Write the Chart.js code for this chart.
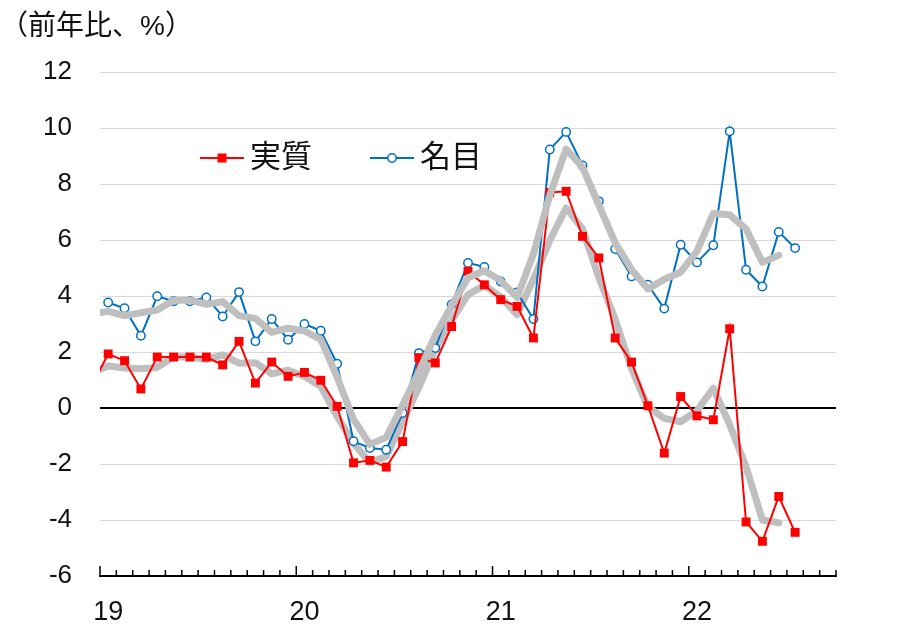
<!DOCTYPE html>
<html>
<head>
<meta charset="utf-8">
<script src="https://cdn.jsdelivr.net/npm/chart.js@4"></script>
<style>
  body { margin: 0; background: #fff; }
  #wrap { width: 917px; height: 629px; }
</style>
</head>
<body>
<div id="wrap"><canvas id="grafica" width="917" height="629"></canvas></div>
<script>
// meses: dic-2018 .. sep-2022 (dic-2018 queda fuera del eje, solo se ve el tramo recortado)
const years = ['2018', '2019', '2020', '2021', '2022'];
const months = [];
years.forEach((y) => {
  for (let m = 1; m <= 12; m++) {
    const lbl = y + '-' + String(m).padStart(2, '0');
    if (lbl >= '2018-12' && lbl <= '2022-09') months.push(lbl);
  }
});
const yearTickLabels = { '2019': '19', '2020': '20', '2021': '21', '2022': '22' };

const seriesNames = ['実質', '名目'];

// 実質 (rojo)
const real = [
  0.8,
  1.93, 1.69, 0.68, 1.82, 1.82, 1.82, 1.82, 1.54, 2.38, 0.89, 1.64, 1.13,
  1.27, 0.99, 0.06, -1.96, -1.87, -2.11, -1.20, 1.8, 1.61, 2.91, 4.88, 4.40,
  3.87, 3.63, 2.5, 7.7, 7.74, 6.13, 5.36, 2.5, 1.64, 0.08, -1.61, 0.41,
  -0.28, -0.42, 2.83, -4.07, -4.76, -3.16, -4.44
];
// 名目 (azul)
const nominal = [
  null,
  3.77, 3.56, 2.58, 3.99, 3.81, 3.81, 3.95, 3.27, 4.14, 2.38, 3.18, 2.44,
  3.0, 2.76, 1.58, -1.19, -1.43, -1.49, -0.18, 1.96, 2.14, 3.7, 5.18, 5.04,
  4.52, 4.13, 3.18, 9.23, 9.86, 8.66, 7.38, 5.68, 4.70, 4.40, 3.55, 5.83,
  5.20, 5.81, 9.88, 4.94, 4.34, 6.29, 5.71
];
// lineas grises (promedio movil)
const nominalAvg = [
  3.35,
  3.45, 3.3, 3.4, 3.5, 3.85, 3.85, 3.7, 3.8, 3.3, 3.2, 2.7, 2.85,
  2.75, 2.45, 1.1, -0.4, -1.3, -1.05, 0.1, 1.3, 2.6, 3.65, 4.65, 4.9,
  4.55, 3.95, 5.5, 7.6, 9.25, 8.6, 7.25, 5.9, 4.95, 4.25, 4.6, 4.85,
  5.6, 6.95, 6.9, 6.4, 5.2, 5.45
];
const realAvg = [
  1.25,
  1.5, 1.43, 1.4, 1.45, 1.82, 1.82, 1.73, 1.9, 1.6, 1.62, 1.22, 1.35,
  1.13, 0.77, -0.3, -1.26, -1.95, -1.73, -0.5, 0.74, 2.1, 3.13, 4.05, 4.38,
  3.97, 3.33, 4.6, 5.98, 7.15, 6.4, 4.66, 3.17, 1.41, 0.04, -0.37, -0.49,
  -0.1, 0.71, -0.6, -2.1, -4.0, -4.1
];

const FONT = "'Liberation Sans', Arial, 'Noto Sans CJK JP', sans-serif";
const RED = '#FF0000';
const BLUE = '#0070C0';
const GRAY = '#BFBFBF';

// marcas del eje x hacia adentro (largas en enero)
const tickMarks = {
  id: 'tickMarks',
  afterDatasetsDraw(chart) {
    const x = chart.scales.x;
    const ctx = chart.ctx;
    const bottom = chart.chartArea.bottom;
    const half = (x.getPixelForValue(x.min + 1) - x.getPixelForValue(x.min)) / 2;
    ctx.save();
    ctx.strokeStyle = '#000';
    ctx.lineWidth = 1.5;
    for (let i = x.min; i <= x.max + 1; i++) {
      const px = x.getPixelForValue(i) - half;
      const lbl = months[i] || '';
      const len = lbl.endsWith('-01') ? 10 : 6;
      ctx.beginPath();
      ctx.moveTo(px, bottom);
      ctx.lineTo(px, bottom - len);
      ctx.stroke();
    }
    ctx.restore();
  }
};

// leyenda dentro del area del grafico
const leyenda = {
  id: 'leyenda',
  afterDraw(chart) {
    const ctx = chart.ctx;
    const a = chart.chartArea;
    const y = a.top + 86;
    const items = [
      { text: seriesNames[0], color: RED, style: 'rect', x: a.left + 100 },
      { text: seriesNames[1], color: BLUE, style: 'circle', x: a.left + 270 }
    ];
    ctx.save();
    items.forEach((it) => {
      ctx.strokeStyle = it.color;
      ctx.lineWidth = 2;
      ctx.beginPath();
      ctx.moveTo(it.x, y);
      ctx.lineTo(it.x + 44, y);
      ctx.stroke();
      if (it.style === 'rect') {
        ctx.fillStyle = it.color;
        ctx.fillRect(it.x + 22 - 4.5, y - 4.5, 9, 9);
      } else {
        ctx.fillStyle = '#fff';
        ctx.lineWidth = 1.5;
        ctx.beginPath();
        ctx.arc(it.x + 22, y, 4.2, 0, Math.PI * 2);
        ctx.fill();
        ctx.stroke();
      }
      ctx.fillStyle = '#111';
      ctx.font = "31px " + FONT;
      ctx.textBaseline = 'middle';
      ctx.textAlign = 'left';
      ctx.fillText(it.text, it.x + 50, y);
    });
    ctx.restore();
  }
};

const ctx = document.getElementById('grafica').getContext('2d');
new Chart(ctx, {
  type: 'line',
  data: {
    labels: months,
    datasets: [
      {
        label: '名目 平均',
        data: nominalAvg,
        borderColor: GRAY,
        borderWidth: 7,
        pointRadius: 0,
        borderCapStyle: 'round',
        borderJoinStyle: 'round',
        clip: 0,
        order: 0
      },
      {
        label: seriesNames[0],
        data: real,
        borderColor: RED,
        backgroundColor: RED,
        borderWidth: 2,
        pointStyle: 'rect',
        pointRadius: 6.3,
        pointBorderWidth: 0,
        clip: 0,
        order: 1
      },
      {
        label: seriesNames[1],
        data: nominal,
        borderColor: BLUE,
        backgroundColor: '#fff',
        borderWidth: 2,
        pointStyle: 'circle',
        pointRadius: 4.2,
        pointBorderWidth: 1.5,
        clip: 0,
        order: 2
      },
      {
        label: '実質 平均',
        data: realAvg,
        borderColor: GRAY,
        borderWidth: 7,
        pointRadius: 0,
        borderCapStyle: 'round',
        borderJoinStyle: 'round',
        clip: 0,
        order: 3
      }
    ]
  },
  options: {
    responsive: false,
    animation: false,
    events: [],
    layout: {
      padding: { left: 0, right: 81, top: 0, bottom: 0 }
    },
    scales: {
      x: {
        type: 'category',
        min: '2019-01',
        max: '2022-09',
        offset: true,
        afterFit: (scale) => { scale.height = 53; },
        grid: {
          display: true,
          offset: true,
          drawOnChartArea: false,
          drawTicks: false
        },
        border: { display: true, color: '#000', width: 2 },
        ticks: {
          autoSkip: false,
          maxRotation: 0,
          padding: 20,
          color: '#111',
          font: { size: 27, family: FONT },
          callback: function (value) {
            const lbl = this.getLabelForValue(value);
            return lbl.endsWith('-01') ? yearTickLabels[lbl.slice(0, 4)] : '';
          }
        }
      },
      y: {
        min: -6,
        max: 12,
        afterFit: (scale) => { scale.width = 100; },
        grid: {
          drawTicks: false,
          color: (c) => (c.tick && c.tick.value === 0 ? '#000' : '#D9D9D9'),
          lineWidth: (c) => (c.tick && c.tick.value === 0 ? 2 : 1)
        },
        border: { display: false },
        ticks: {
          stepSize: 2,
          padding: 28,
          color: '#111',
          font: { size: 26, family: FONT }
        }
      }
    },
    plugins: {
      legend: { display: false },
      tooltip: { enabled: false },
      title: {
        display: true,
        text: '（前年比、%）',
        align: 'start',
        color: '#111',
        font: { size: 28, weight: 'normal', family: FONT },
        padding: { top: 10, bottom: 28.4 }
      }
    }
  },
  plugins: [tickMarks, leyenda]
});
</script>
</body>
</html>
